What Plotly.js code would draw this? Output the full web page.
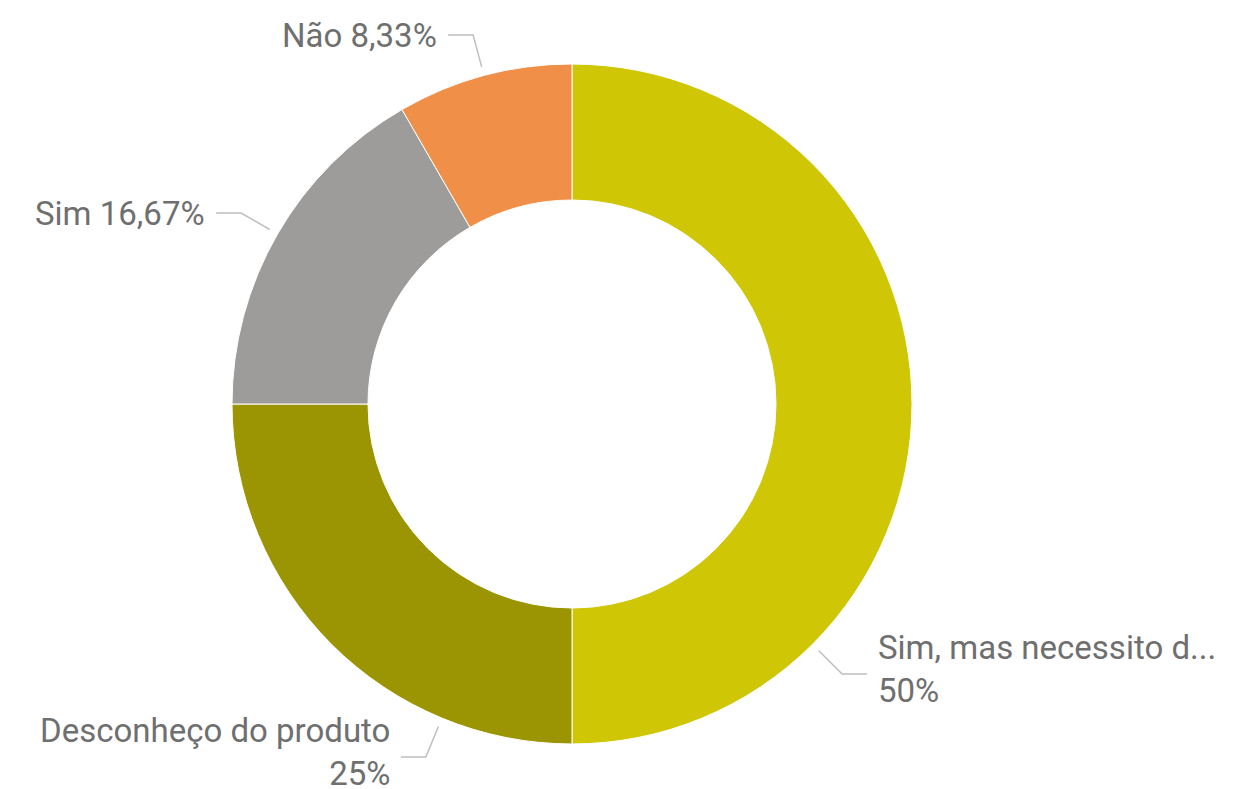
<!DOCTYPE html>
<html>
<head>
<meta charset="utf-8">
<script src="https://cdn.plot.ly/plotly-3.0.1.min.js"></script>
<style>html,body{margin:0;padding:0;background:#fff;}#chart{width:1233px;height:789px;}</style>
</head>
<body>
<div id="chart"></div>
<script>
// Data
const categories = ["Sim, mas necessito d...", "Desconheço do produto", "Sim", "Não"];
const values = [6, 3, 2, 1];
const percentLabels = ["50%", "25%", "16,67%", "8,33%"];
const sliceColors = ["#CFC705", "#9C9503", "#9D9C9A", "#F08F48"];

// Layout configuration (pixels)
const W = 1233, H = 789;
const cx = 572, cy = 404, R = 340;
const labelFrac = [0.75, 0.25, 0.5, 0.5];   // where along each slice the leader line starts
const multiLine = [true, true, false, false];
const rStart = 349, rElbow = 382, hLen = 25, gap = 10;

const total = values.reduce((a, b) => a + b, 0);
const shapes = [], annotations = [];
let cum = 0;
values.forEach((v, i) => {
  const deg = (cum + v * labelFrac[i]) / total * 360;
  cum += v;
  const a = deg * Math.PI / 180;
  const sx = cx + rStart * Math.sin(a), sy = cy - rStart * Math.cos(a);
  const ex = cx + rElbow * Math.sin(a), ey = cy - rElbow * Math.cos(a);
  const right = Math.sin(a) > 0;
  const hx = ex + (right ? hLen : -hLen);
  shapes.push({type: "path", xref: "x", yref: "y",
    path: `M${sx},${sy} L${ex},${ey} L${hx},${ey}`,
    line: {color: "#BFBFBF", width: 1.5}});
  const txt = multiLine[i] ? categories[i] + "<br>" + percentLabels[i] : categories[i] + " " + percentLabels[i];
  annotations.push({xref: "x", yref: "y", x: hx + (right ? gap : -gap), y: ey - (multiLine[i] ? 5 : 0),
    xanchor: right ? "left" : "right", yanchor: "middle", align: right ? "left" : "right",
    text: txt, showarrow: false, borderpad: 0,
    font: {family: "Roboto, sans-serif", size: 33, color: "#6F6F6F"}});
});

const trace = {
  type: "pie", labels: categories, values: values, hole: 0.6, sort: false,
  direction: "clockwise", rotation: 0, textinfo: "none", hoverinfo: "label+percent",
  marker: {colors: sliceColors, line: {color: "#FFFFFF", width: 1}},
  domain: {x: [(cx - R) / W, (cx + R) / W], y: [(H - cy - R) / H, (H - cy + R) / H]},
  showlegend: false
};

const layout = {
  width: W, height: H, margin: {l: 0, r: 0, t: 0, b: 0},
  paper_bgcolor: "#FFFFFF", plot_bgcolor: "rgba(0,0,0,0)",
  xaxis: {range: [0, W], visible: false, fixedrange: true},
  yaxis: {range: [H, 0], visible: false, fixedrange: true},
  shapes: shapes, annotations: annotations, showlegend: false
};

Plotly.newPlot("chart", [trace], layout, {displayModeBar: false, staticPlot: true});
</script>
</body>
</html>
